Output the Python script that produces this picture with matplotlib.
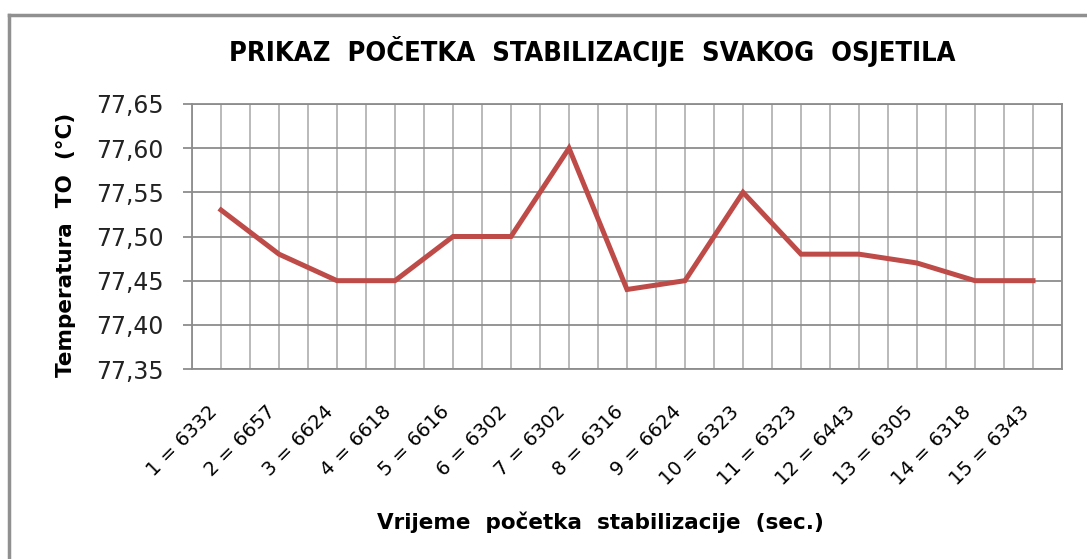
import matplotlib.pyplot as plt
from matplotlib.lines import Line2D

# senzori i vrijeme početka stabilizacije
kategorije = ['1 = 6332', '2 = 6657', '3 = 6624', '4 = 6618', '5 = 6616',
              '6 = 6302', '7 = 6302', '8 = 6316', '9 = 6624', '10 = 6323',
              '11 = 6323', '12 = 6443', '13 = 6305', '14 = 6318', '15 = 6343']
temperatura = [77.53, 77.48, 77.45, 77.45, 77.50, 77.50, 77.60, 77.44,
               77.45, 77.55, 77.48, 77.48, 77.47, 77.45, 77.45]
y_ticks = [77.35, 77.40, 77.45, 77.50, 77.55, 77.60, 77.65]

fig = plt.figure(figsize=(10.87, 5.59), dpi=100)
ax = fig.add_axes([192/1087, 1-369/559, 870/1087, 265/559])

x = list(range(len(temperatura)))
ax.plot(x, temperatura, color='#be4b48', lw=3.6, solid_joinstyle='miter', zorder=3)

ax.set_xlim(-0.5, len(x) - 0.5)
ax.set_ylim(y_ticks[0], y_ticks[-1])

# mreža: linije na sredini i na granicama kategorija
ax.set_xticks(x)
ax.set_xticks([i - 0.5 for i in range(len(x) + 1)], minor=True)
ax.set_xticklabels(kategorije, rotation=45, ha='right', va='top', fontsize=14)
ax.set_yticks(y_ticks)
ax.set_yticklabels([('%.2f' % v).replace('.', ',') for v in y_ticks], fontsize=17,
                   color='#222222')
ax.grid(True, axis='x', which='both', color='#b4b4b4', lw=1.3)
ax.grid(True, axis='y', color='#8c8c8c', lw=1.3)
ax.set_axisbelow(True)
ax.tick_params(axis='x', which='both', length=0, pad=24)
ax.tick_params(axis='y', length=6.5, width=1.3, color='#8c8c8c', pad=14)
for s in ax.spines.values():
    s.set_color('#8c8c8c')
    s.set_linewidth(1.3)

ax.set_ylabel('Temperatura  TO  (°C)', fontsize=15.5, fontweight='bold')
ax.yaxis.set_label_coords(-0.133, 0.468)
ax.set_xlabel('Vrijeme  početka  stabilizacije  (sec.)', fontsize=15.5,
              fontweight='bold', va='center')
ax.xaxis.set_label_coords(0.469, -0.58)

fig.text(592/1087, 1-52/559, 'PRIKAZ  POČETKA  STABILIZACIJE  SVAKOG  OSJETILA',
         ha='center', va='center', fontsize=19.5, fontweight='bold',
         fontstretch='condensed', family='DejaVu Sans')

# okvir grafikona
fig.add_artist(Line2D([9/1087, 1], [1-15/559, 1-15/559], color='#909090', lw=2.5,
                      transform=fig.transFigure))
fig.add_artist(Line2D([9/1087, 9/1087], [0, 1-15/559], color='#909090', lw=2.5,
                      transform=fig.transFigure))

fig.savefig('out.png', dpi=100)
